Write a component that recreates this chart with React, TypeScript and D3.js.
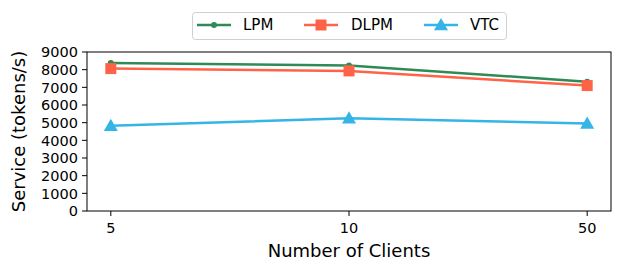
import React from "react";
import * as d3 from "d3";

const categories = ["5", "10", "50"];
const lpm = [8380, 8230, 7320];
const dlpm = [8060, 7930, 7100];
const vtc = [4820, 5250, 4950];
const yTicks = [0, 1000, 2000, 3000, 4000, 5000, 6000, 7000, 8000, 9000];

const series = [
  { name: "LPM", values: lpm, color: "#2e8b57", marker: "circle" },
  { name: "DLPM", values: dlpm, color: "#ff6347", marker: "square" },
  { name: "VTC", values: vtc, color: "#35b4e6", marker: "triangle" },
];

const W = 623, H = 273;
const m = { left: 87, right: 611, top: 52, bottom: 211 };
const font = "DejaVu Sans, sans-serif";

function Marker({ type, x, y, color }: { type: string; x: number; y: number; color: string }) {
  if (type === "circle") return <circle cx={x} cy={y} r={3} fill={color} />;
  if (type === "square") return <rect x={x - 5.5} y={y - 5.5} width={11} height={11} fill={color} />;
  const s = 7;
  return <path d={`M${x},${y - s}L${x + s},${y + s * 0.75}L${x - s},${y + s * 0.75}Z`} fill={color} />;
}

export default function App() {
  const x = d3.scalePoint<string>().domain(categories).range([m.left, m.right]).padding(0.1);
  const y = d3.scaleLinear().domain([0, 9000]).range([m.bottom, m.top]);
  const line = d3.line<number>().x((_, i) => x(categories[i])!).y((d) => y(d));

  const legendEntries = [
    { lx: 197, tx: 243 },
    { lx: 304, tx: 351 },
    { lx: 424, tx: 470 },
  ];

  return (
    <svg width={W} height={H} style={{ position: "absolute", left: 0, top: 0 }} fontFamily={font}>
      <rect width={W} height={H} fill="white" />
      {series.map((s) => (
        <g key={s.name}>
          <path d={line(s.values)!} fill="none" stroke={s.color} strokeWidth={2.5} />
          {s.values.map((v, i) => (
            <Marker key={i} type={s.marker} x={x(categories[i])!} y={y(v)} color={s.color} />
          ))}
        </g>
      ))}
      <rect x={m.left} y={m.top} width={m.right - m.left} height={m.bottom - m.top} fill="none" stroke="black" strokeWidth={1} />
      {yTicks.map((t) => (
        <g key={t}>
          <line x1={m.left - 5} x2={m.left} y1={y(t)} y2={y(t)} stroke="black" />
          <text x={m.left - 9} y={y(t)} dy="0.36em" textAnchor="end" fontSize={14.5}>{t}</text>
        </g>
      ))}
      {categories.map((c) => (
        <g key={c}>
          <line x1={x(c)} x2={x(c)} y1={m.bottom} y2={m.bottom + 5} stroke="black" />
          <text x={x(c)} y={m.bottom + 22} textAnchor="middle" fontSize={14.5}>{c}</text>
        </g>
      ))}
      <text x={(m.left + m.right) / 2} y={257} textAnchor="middle" fontSize={18}>Number of Clients</text>
      <text transform={`translate(25,${(m.top + m.bottom) / 2}) rotate(-90)`} textAnchor="middle" fontSize={18}>Service (tokens/s)</text>
      <rect x={192.5} y={12.5} width={314} height={27} rx={3} fill="white" stroke="#d0d0d0" />
      {series.map((s, i) => {
        const e = legendEntries[i];
        return (
          <g key={s.name}>
            <line x1={e.lx} x2={e.lx + 34} y1={25} y2={25} stroke={s.color} strokeWidth={2.5} />
            <Marker type={s.marker} x={e.lx + 17} y={25} color={s.color} />
            <text x={e.tx} y={25} dy="0.36em" fontSize={15}>{s.name}</text>
          </g>
        );
      })}
    </svg>
  );
}
